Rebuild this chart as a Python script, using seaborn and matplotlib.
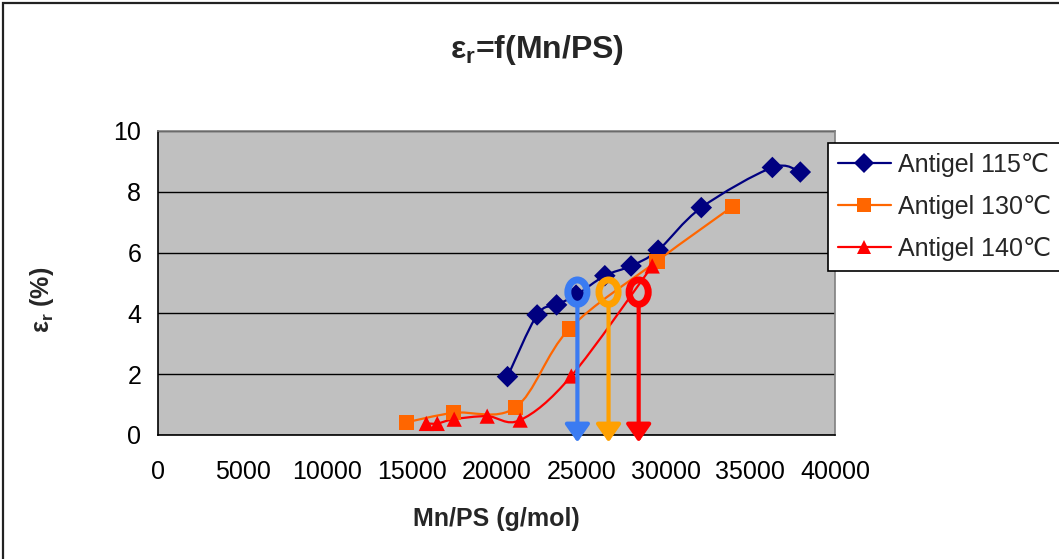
import numpy as np
import pandas as pd
import seaborn as sns
import matplotlib
matplotlib.use("Agg")
import matplotlib.pyplot as plt
from matplotlib.path import Path
from matplotlib.patches import PathPatch, Ellipse, Rectangle, FancyArrowPatch
from matplotlib.lines import Line2D

# ---- data -------------------------------------------------------------
mn_115 = [20650, 22400, 23550, 24700, 26400, 27950, 29550, 32100, 36300, 37950]
eps_115 = [1.92, 3.95, 4.28, 4.60, 5.24, 5.56, 6.08, 7.48, 8.80, 8.65]

mn_130 = [14700, 17450, 21130, 24300, 29480, 33930]
eps_130 = [0.42, 0.73, 0.91, 3.49, 5.72, 7.51]

mn_140 = [15850, 16500, 17500, 19450, 21400, 24420, 29200]
eps_140 = [0.38, 0.38, 0.52, 0.62, 0.49, 1.94, 5.56]

series_names = ["Antigel 115℃", "Antigel 130℃", "Antigel 140℃"]
series_colors = ["#000080", "#FF6600", "#FF0000"]
series_markers = ["D", "s", "^"]

# threshold markers (Mn/PS at which each curve reaches the marked strain)
mark_mn = [24780, 26620, 28400]
mark_eps = [4.7, 4.7, 4.7]
mark_colors = ["#3A7BF2", "#FFA000", "#FF0000"]

x_ticks = [0, 5000, 10000, 15000, 20000, 25000, 30000, 35000, 40000]
y_ticks = [0, 2, 4, 6, 8, 10]

# ---- style ------------------------------------------------------------
sns.set_theme(style="white")
plt.rcParams["font.family"] = ["Liberation Sans", "DejaVu Sans"]
plt.rcParams["mathtext.fontset"] = "custom"
plt.rcParams["mathtext.rm"] = "Liberation Sans"
plt.rcParams["mathtext.it"] = "Liberation Sans"
plt.rcParams["mathtext.bf"] = "Liberation Sans:bold"

W, H = 1059, 559
fig = plt.figure(figsize=(W / 100, H / 100), dpi=100)
fig.patch.set_facecolor("white")

left, right, top, bottom = 158, 835, 131, 435
ax = fig.add_axes([left / W, 1 - bottom / H, (right - left) / W, (bottom - top) / H])
ax.set_facecolor("#C0C0C0")

ax.set_xlim(0, 40000)
ax.set_ylim(0, 10)
ax.set_xticks(x_ticks)
ax.set_yticks(y_ticks)
ax.set_xticklabels([str(v) for v in x_ticks])
ax.set_yticklabels([str(v) for v in y_ticks])
ax.yaxis.grid(True, color="black", linewidth=1.0)
ax.xaxis.grid(False)
ax.set_axisbelow(True)

for side in ["top", "right"]:
    ax.spines[side].set_color("#808080")
    ax.spines[side].set_linewidth(1.2)
for side in ["left", "bottom"]:
    ax.spines[side].set_color("black")
    ax.spines[side].set_linewidth(1.2)

ax.tick_params(axis="both", which="major", direction="out", length=6, width=1,
               color="black", labelsize=18, labelcolor="black")
ax.tick_params(axis="x", pad=12)
ax.tick_params(axis="y", pad=6)


# smoothed connecting lines (cubic Bezier through the points)
def smooth_path(xs, ys):
    pts = np.column_stack([xs, ys]).astype(float)
    n = len(pts)
    verts = [pts[0]]
    codes = [Path.MOVETO]
    for i in range(n - 1):
        p0 = pts[i - 1] if i > 0 else pts[i]
        p1 = pts[i]
        p2 = pts[i + 1]
        p3 = pts[i + 2] if i + 2 < n else pts[i + 1]
        c1 = p1 + (p2 - p0) / 6.0
        c2 = p2 - (p3 - p1) / 6.0
        verts += [c1, c2, p2]
        codes += [Path.CURVE4] * 3
    return Path(verts, codes)


all_mn = [mn_115, mn_130, mn_140]
all_eps = [eps_115, eps_130, eps_140]

for xs, ys, col in zip(all_mn, all_eps, series_colors):
    ax.add_patch(PathPatch(smooth_path(xs, ys), facecolor="none",
                           edgecolor=col, linewidth=1.6, zorder=3))

frames = []
for name, xs, ys in zip(series_names, all_mn, all_eps):
    frames.append(pd.DataFrame({"Mn": xs, "eps": ys, "serie": name}))
df = pd.concat(frames, ignore_index=True)

sns.scatterplot(data=df, x="Mn", y="eps", hue="serie", style="serie",
                palette=dict(zip(series_names, series_colors)),
                markers=dict(zip(series_names, series_markers)),
                s=120, linewidth=0, legend=False, ax=ax, zorder=4)
ax.set_xlabel("")
ax.set_ylabel("")

# circled points with arrows down to the axis
for xm, ym, col in zip(mark_mn, mark_eps, mark_colors):
    ax.add_patch(Ellipse((xm, ym), width=1130, height=0.80, facecolor="none",
                         edgecolor=col, linewidth=5.0, zorder=6))
    arr = FancyArrowPatch((xm, ym - 0.45), (xm, -0.24),
                          arrowstyle="-|>,head_length=0.6,head_width=0.42",
                          mutation_scale=18, color=col, linewidth=3.0,
                          shrinkA=0, shrinkB=0, zorder=6, clip_on=False)
    ax.add_patch(arr)

# legend
handles = [Line2D([0], [0], color=c, marker=m, markersize=10, linewidth=1.6,
                  markeredgewidth=0)
           for c, m in zip(series_colors, series_markers)]
leg = ax.legend(handles, series_names, loc="upper left",
                bbox_to_anchor=((828 - left) / (right - left), (bottom - 143) / (bottom - top)),
                borderaxespad=0, fontsize=18, frameon=True, fancybox=False,
                handlelength=2.1, handletextpad=0.3, labelspacing=0.72,
                borderpad=0.4)
leg.get_frame().set_edgecolor("black")
leg.get_frame().set_linewidth(1.2)
leg.get_frame().set_facecolor("white")
leg.get_frame().set_alpha(1)

# titles
fig.text(537 / W, 1 - 50 / H, r"$\mathbf{ε_r}$=f(Mn/PS)", ha="center", va="center",
         fontsize=23, fontweight="bold")
fig.text(496 / W, 1 - 519 / H, "Mn/PS (g/mol)", ha="center", va="center",
         fontsize=18, fontweight="bold")
fig.text(42 / W, 1 - 300 / H, r"$\mathbf{ε_r}$ (%)", ha="center", va="center",
         rotation=90, fontsize=18, fontweight="bold")

# chart border
fig.patches.append(Rectangle((3 / W, -0.1), 1.2, 1.1 - 3 / H, transform=fig.transFigure,
                             facecolor="none", edgecolor="#222222", linewidth=1.6))

fig.savefig("out.png", dpi=100)
